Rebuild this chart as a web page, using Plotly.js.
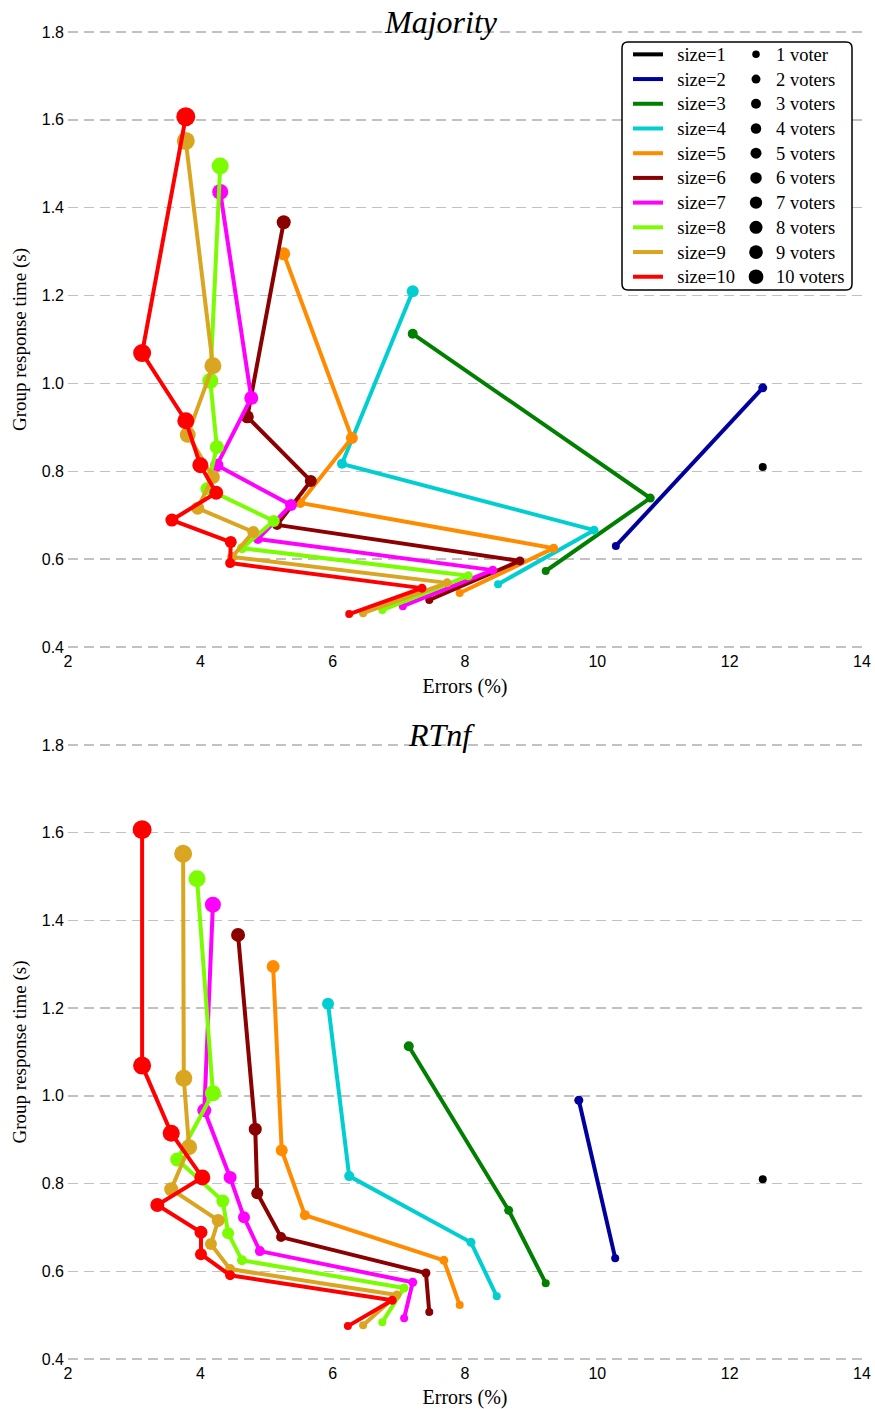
<!DOCTYPE html>
<html><head><meta charset="utf-8">
<script src="https://cdn.plot.ly/plotly-3.0.1.min.js"></script>
<style>html,body{margin:0;padding:0;background:#fff}#chart{width:875px;height:1409px}</style>
</head><body><div id="chart"></div>
<script>
// ---------- DATA ----------
const groupSizes = [1, 2, 3, 4, 5, 6, 7, 8, 9, 10];

// Group response time (s), one value per number of voters (shared by both panels)
const rtSize1  = [0.81];
const rtSize2  = [0.63, 0.99];
const rtSize3  = [0.573, 0.739, 1.113];
const rtSize4  = [0.543, 0.666, 0.817, 1.21];
const rtSize5  = [0.523, 0.625, 0.728, 0.876, 1.295];
const rtSize6  = [0.507, 0.596, 0.678, 0.778, 0.924, 1.367];
const rtSize7  = [0.493, 0.575, 0.646, 0.723, 0.814, 0.967, 1.436];
const rtSize8  = [0.484, 0.562, 0.625, 0.687, 0.760, 0.855, 1.006, 1.495];
const rtSize9  = [0.477, 0.546, 0.605, 0.662, 0.716, 0.787, 0.883, 1.040, 1.552];
const rtSize10 = [0.475, 0.534, 0.591, 0.639, 0.689, 0.751, 0.814, 0.915, 1.069, 1.607];

// Errors (%) - Majority panel
const majErrSize1  = [12.5];
const majErrSize2  = [10.28, 12.5];
const majErrSize3  = [9.22, 10.80, 7.21];
const majErrSize4  = [8.50, 9.95, 6.14, 7.21];
const majErrSize5  = [7.92, 9.34, 5.51, 6.29, 5.26];
const majErrSize6  = [7.46, 8.83, 5.16, 5.67, 4.71, 5.26];
const majErrSize7  = [7.06, 8.42, 4.87, 5.37, 4.25, 4.77, 4.30];
const majErrSize8  = [6.75, 8.05, 4.63, 5.11, 4.10, 4.25, 4.15, 4.30];
const majErrSize9  = [6.46, 7.73, 4.48, 4.80, 3.96, 4.19, 3.81, 4.19, 3.78];
const majErrSize10 = [6.25, 7.35, 4.45, 4.46, 3.57, 4.24, 4.00, 3.78, 3.12, 3.78];

// Errors (%) - RTnf panel
const rtnfErrSize1  = [12.5];
const rtnfErrSize2  = [10.27, 9.72];
const rtnfErrSize3  = [9.22, 8.66, 7.15];
const rtnfErrSize4  = [8.48, 8.09, 6.25, 5.93];
const rtnfErrSize5  = [7.92, 7.68, 5.58, 5.23, 5.10];
const rtnfErrSize6  = [7.46, 7.41, 5.22, 4.86, 4.83, 4.57];
const rtnfErrSize7  = [7.08, 7.21, 4.90, 4.66, 4.45, 4.06, 4.19];
const rtnfErrSize8  = [6.75, 7.08, 4.63, 4.42, 4.34, 3.65, 4.19, 3.95];
const rtnfErrSize9  = [6.46, 6.97, 4.45, 4.16, 4.27, 3.56, 3.83, 3.75, 3.74];
const rtnfErrSize10 = [6.23, 6.90, 4.45, 4.01, 4.01, 3.35, 4.03, 3.56, 3.12, 3.12];

const xTickVals = [2, 4, 6, 8, 10, 12, 14];
const yTickVals = [0.4, 0.6, 0.8, 1.0, 1.2, 1.4, 1.6, 1.8];

const rtBySize   = [rtSize1, rtSize2, rtSize3, rtSize4, rtSize5, rtSize6, rtSize7, rtSize8, rtSize9, rtSize10];
const majBySize  = [majErrSize1, majErrSize2, majErrSize3, majErrSize4, majErrSize5, majErrSize6, majErrSize7, majErrSize8, majErrSize9, majErrSize10];
const rtnfBySize = [rtnfErrSize1, rtnfErrSize2, rtnfErrSize3, rtnfErrSize4, rtnfErrSize5, rtnfErrSize6, rtnfErrSize7, rtnfErrSize8, rtnfErrSize9, rtnfErrSize10];

// ---------- STYLE ----------
const colors = ['#000000', '#00009c', '#007f00', '#00ced1', '#ff8c00', '#8b0000', '#ff00ff', '#7cfc00', '#daa520', '#ff0000'];
const markerPx = [8, 9, 10, 12, 13, 14, 16, 17, 18, 19];
const legendMarkerPx = [7.5, 9, 10, 10.5, 11, 11.5, 12.3, 13, 13.7, 14.7];
const serif = 'Liberation Serif, Times New Roman, serif';
const sans = 'Liberation Sans, Arial, sans-serif';
const legendText = (s, pad) => '<span style="font-size:18.5px">' + (pad ? '&nbsp;&nbsp;' : '') + s + '</span>';

const traces = [];
[[majBySize, 'x', 'y'], [rtnfBySize, 'x2', 'y2']].forEach(([errs, xa, ya]) => {
  groupSizes.forEach((g, i) => {
    traces.push({
      type: 'scatter', mode: 'lines+markers',
      x: errs[i], y: rtBySize[i], xaxis: xa, yaxis: ya,
      line: {color: colors[i], width: 4},
      marker: {color: colors[i], size: markerPx.slice(0, g), opacity: 1, line: {width: 0}},
      showlegend: false, hoverinfo: 'skip'
    });
  });
});
// legend entries: group sizes (lines)
groupSizes.forEach((g, i) => {
  traces.push({
    type: 'scatter', mode: 'lines', x: [null], y: [null], xaxis: 'x', yaxis: 'y',
    line: {color: colors[i], width: 4}, name: legendText('size=' + g, true), legend: 'legend', showlegend: true
  });
});
// legend entries: voters (markers)
groupSizes.forEach((g, i) => {
  traces.push({
    type: 'scatter', mode: 'markers', x: [null], y: [null], xaxis: 'x', yaxis: 'y',
    marker: {color: '#000000', size: legendMarkerPx[i], opacity: 1},
    name: legendText(g === 1 ? '1 voter' : g + ' voters', false), legend: 'legend2', showlegend: true
  });
});

const W = 875, H = 1409;
const mL = 68, mR = 13, mT = 28, mB = 46;
const plotW = W - mL - mR, plotH = H - mT - mB;
const py = (pix) => (H - mB - pix) / plotH;   // pixel row -> paper y
const px = (pix) => (pix - mL) / plotW;       // pixel col -> paper x
const edgePad = 1.32; // px so that the 0.4 / 1.8 grid lines stay inside the plot area

const xaxisBase = {
  range: [2, 14], tickvals: xTickVals, ticks: '', showgrid: false, zeroline: false, showline: false,
  tickfont: {family: sans, size: 16, color: '#000'}, ticklabelstandoff: 2,
  title: {text: 'Errors (%)', font: {family: serif, size: 20, color: '#000'}, standoff: 9}
};
const yaxisBase = {
  range: [0.397, 1.803], tickvals: yTickVals, tickformat: '.1f', ticks: '',
  showgrid: true, gridcolor: '#c2c2c2', gridwidth: 1.5, griddash: '10px,6px',
  zeroline: false, showline: false,
  tickfont: {family: sans, size: 16, color: '#000'}, ticklabelstandoff: 3,
  title: {text: 'Group response time (s)', font: {family: serif, size: 19, color: '#000'}, standoff: 10}
};

// rounded legend frame
const bx0 = px(622), bx1 = px(852), by1 = py(42), by0 = py(290);
const rx = 6 / plotW, ry = 6 / plotH;
const framePath = `M ${bx0+rx},${by1} L ${bx1-rx},${by1} Q ${bx1},${by1} ${bx1},${by1-ry} L ${bx1},${by0+ry} Q ${bx1},${by0} ${bx1-rx},${by0} L ${bx0+rx},${by0} Q ${bx0},${by0} ${bx0},${by0+ry} L ${bx0},${by1-ry} Q ${bx0},${by1} ${bx0+rx},${by1} Z`;

const legendBase = {
  yanchor: 'top', xanchor: 'left', bgcolor: 'rgba(0,0,0,0)', borderwidth: 0,
  font: {family: serif, size: 16.7, color: '#000'}, itemsizing: 'trace', tracegroupgap: 0,
  orientation: 'v'
};

const layout = {
  width: W, height: H,
  margin: {l: mL, r: mR, t: mT, b: mB},
  paper_bgcolor: '#fff', plot_bgcolor: 'rgba(0,0,0,0)',
  showlegend: true,
  xaxis: Object.assign({}, xaxisBase, {domain: [0, 1], anchor: 'y'}),
  yaxis: Object.assign({}, yaxisBase, {domain: [py(647 + edgePad), py(32 - edgePad)], anchor: 'x'}),
  xaxis2: Object.assign({}, xaxisBase, {domain: [0, 1], anchor: 'y2'}),
  yaxis2: Object.assign({}, yaxisBase, {domain: [py(1359 + edgePad), py(745 - edgePad)], anchor: 'x2'}),
  legend: Object.assign({}, legendBase, {x: px(628), y: py(37)}),
  legend2: Object.assign({}, legendBase, {x: px(736), y: py(37)}),
  shapes: [{type: 'path', xref: 'paper', yref: 'paper', path: framePath,
            line: {color: '#000', width: 1.5}, fillcolor: '#fff', layer: 'above'}],
  annotations: [
    {text: '<i>Majority</i>', xref: 'paper', yref: 'paper', x: px(441), y: py(22),
     xanchor: 'center', yanchor: 'middle', showarrow: false, font: {family: serif, size: 32, color: '#000'}},
    {text: '<i>RTnf</i>', xref: 'paper', yref: 'paper', x: px(441), y: py(735),
     xanchor: 'center', yanchor: 'middle', showarrow: false, font: {family: serif, size: 32, color: '#000'}}
  ]
};

Plotly.newPlot('chart', traces, layout, {staticPlot: true, displayModeBar: false});
</script>
</body></html>
